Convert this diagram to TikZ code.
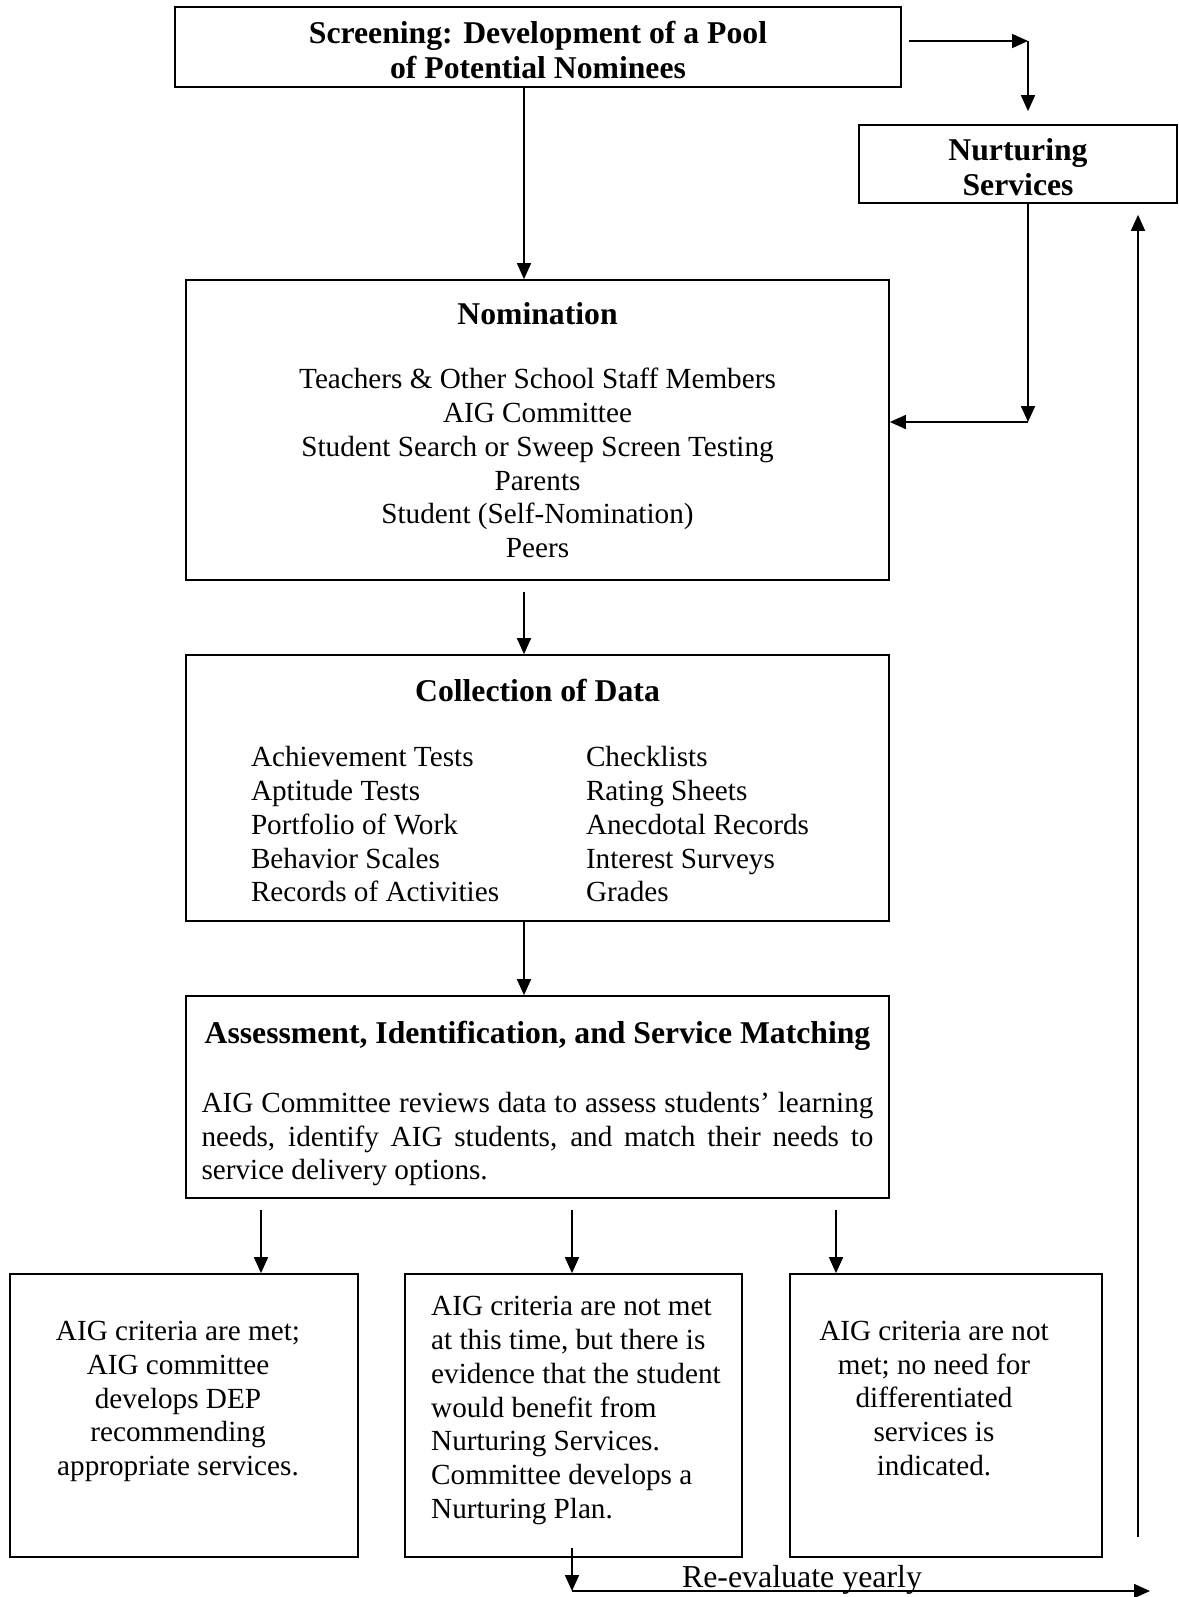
\documentclass[tikz,border=0pt]{standalone}
\usepackage{fontspec}
\setmainfont{Liberation Serif}
\usetikzlibrary{calc,arrows.meta}
\newcommand\bodyfont{\fontsize{29.2}{33.7}\selectfont}
\newcommand\headfont{\fontsize{31.7}{35}\selectfont\bfseries}

\tikzset{
	box/.style={draw, line width=1.7pt, inner sep=0pt, align=center, font=\bodyfont},
	arr/.style={line width=1.7pt, -{Triangle[length=16pt,width=14pt]}},
	txt/.style={inner sep=0pt, font=\bodyfont},
}

\begin{document}
\begin{tikzpicture}[x=1pt,y=-1pt]
			%%%%% START %%%%%
			\useasboundingbox (0,0) rectangle (1178,1597);
			
			\node[box, minimum width=726pt, minimum height=80pt, font=\headfont] (screen) at (538,47) {\rule{0pt}{28pt}Screening: Development of a Pool\\of Potential Nominees};
			\node[box, minimum width=318pt, minimum height=78pt, font=\headfont] (nurt) at (1018,164) {\rule{0pt}{28pt}Nurturing\\Services};
			
			\node[box, minimum width=703pt, minimum height=300pt] (nom) at (537.5,430) {{\headfont Nomination}\\[31pt]Teachers \& Other School Staff Members\\AIG Committee\\Student Search or Sweep Screen Testing\\Parents\\Student (Self-Nomination)\\Peers};
			
			\node[box, minimum width=703pt, minimum height=266pt] (coll) at (537.5,788) {{\headfont\rule{0pt}{37pt}Collection of Data}\\[32pt]\begin{tabular}[t]{@{}p{335pt}@{}p{238pt}@{}}
					Achievement Tests & Checklists\\
					Aptitude Tests & Rating Sheets\\
					Portfolio of Work & Anecdotal Records\\
					Behavior Scales & Interest Surveys\\
					Records of Activities & Grades
				\end{tabular}};
			
			\node[box, minimum width=703pt, minimum height=202pt, text width=672pt, align=justify] (asmt) at (537.5,1097) {\makebox[\linewidth][c]{\headfont\rule{0pt}{36pt}Assessment, Identification, and Service Matching}\\[35pt]AIG Committee reviews data to assess students’ learning\linebreak needs, identify AIG students, and match their needs to\linebreak service delivery options.};
			
			\node[box, minimum width=348pt, minimum height=283pt] (met) at (184,1415.5) {};
			\node[box, minimum width=337pt, minimum height=283pt] (notyet) at (573.5,1415.5) {};
			\node[box, minimum width=312pt, minimum height=283pt] (notmet) at (946,1415.5) {};
			
			\node[txt, align=center] (met-txt) at (178,1401.5) {AIG criteria are met;\\AIG committee\\develops DEP\\recommending\\appropriate services.};
			\node[txt, align=left, anchor=west] (notyet-txt) at (431,1410.5) {AIG criteria are not met\\at this time, but there is\\evidence that the student\\would benefit from\\Nurturing Services.\\Committee develops a\\Nurturing Plan.};
			\node[txt, align=center] (notmet-txt) at (934,1398.5) {AIG criteria are not\\met; no need for\\differentiated\\services is\\indicated.};
			
			% main column
			\coordinate (spine) at (524,0);
			\draw[arr] (spine |- screen.south) -- (spine |- nom.north);
			\draw[arr] ($(spine |- nom.south)+(0,11)$) -- (spine |- coll.north);
			\draw[arr] (spine |- coll.south) -- (spine |- asmt.north);
			
			% to and from nurturing
			\coordinate (corner) at (1028,41);
			\draw[arr] ($(screen.east |- corner)+(7,0)$) -- (corner);
			\draw[arr] (corner) -- ($(corner |- nurt.north)+(0,-13)$);
			\coordinate (back) at (1028,422);
			\draw[arr] (nurt.south -| back) -- (back);
			\draw[arr] (back) -- (nom.east |- back);
			
			% outcomes
			\foreach \bx/\px in {met/261,notyet/572,notmet/836}{
				\coordinate (top-\bx) at (\px,1210);
				\draw[arr] (top-\bx) -- (top-\bx |- \bx.north);
			}
			
			% re-evaluation
			\coordinate (reval) at (572,1591);
			\coordinate (revalend) at (1150,1591);
			\draw[arr] ($(reval |- notyet.south)+(0,-10)$) -- (reval);
			\draw[arr] (reval) -- (revalend);
			\node[txt, anchor=base, font=\fontsize{31.9}{35}\selectfont] (reval-txt) at (802,1587) {Re-evaluate yearly};
			\coordinate (upfoot) at (1138,1537);
			\draw[arr] (upfoot) -- ($(upfoot |- nurt.south)+(0,11)$);
			
			%%%%% END %%%%%
\end{tikzpicture}
\end{document}
